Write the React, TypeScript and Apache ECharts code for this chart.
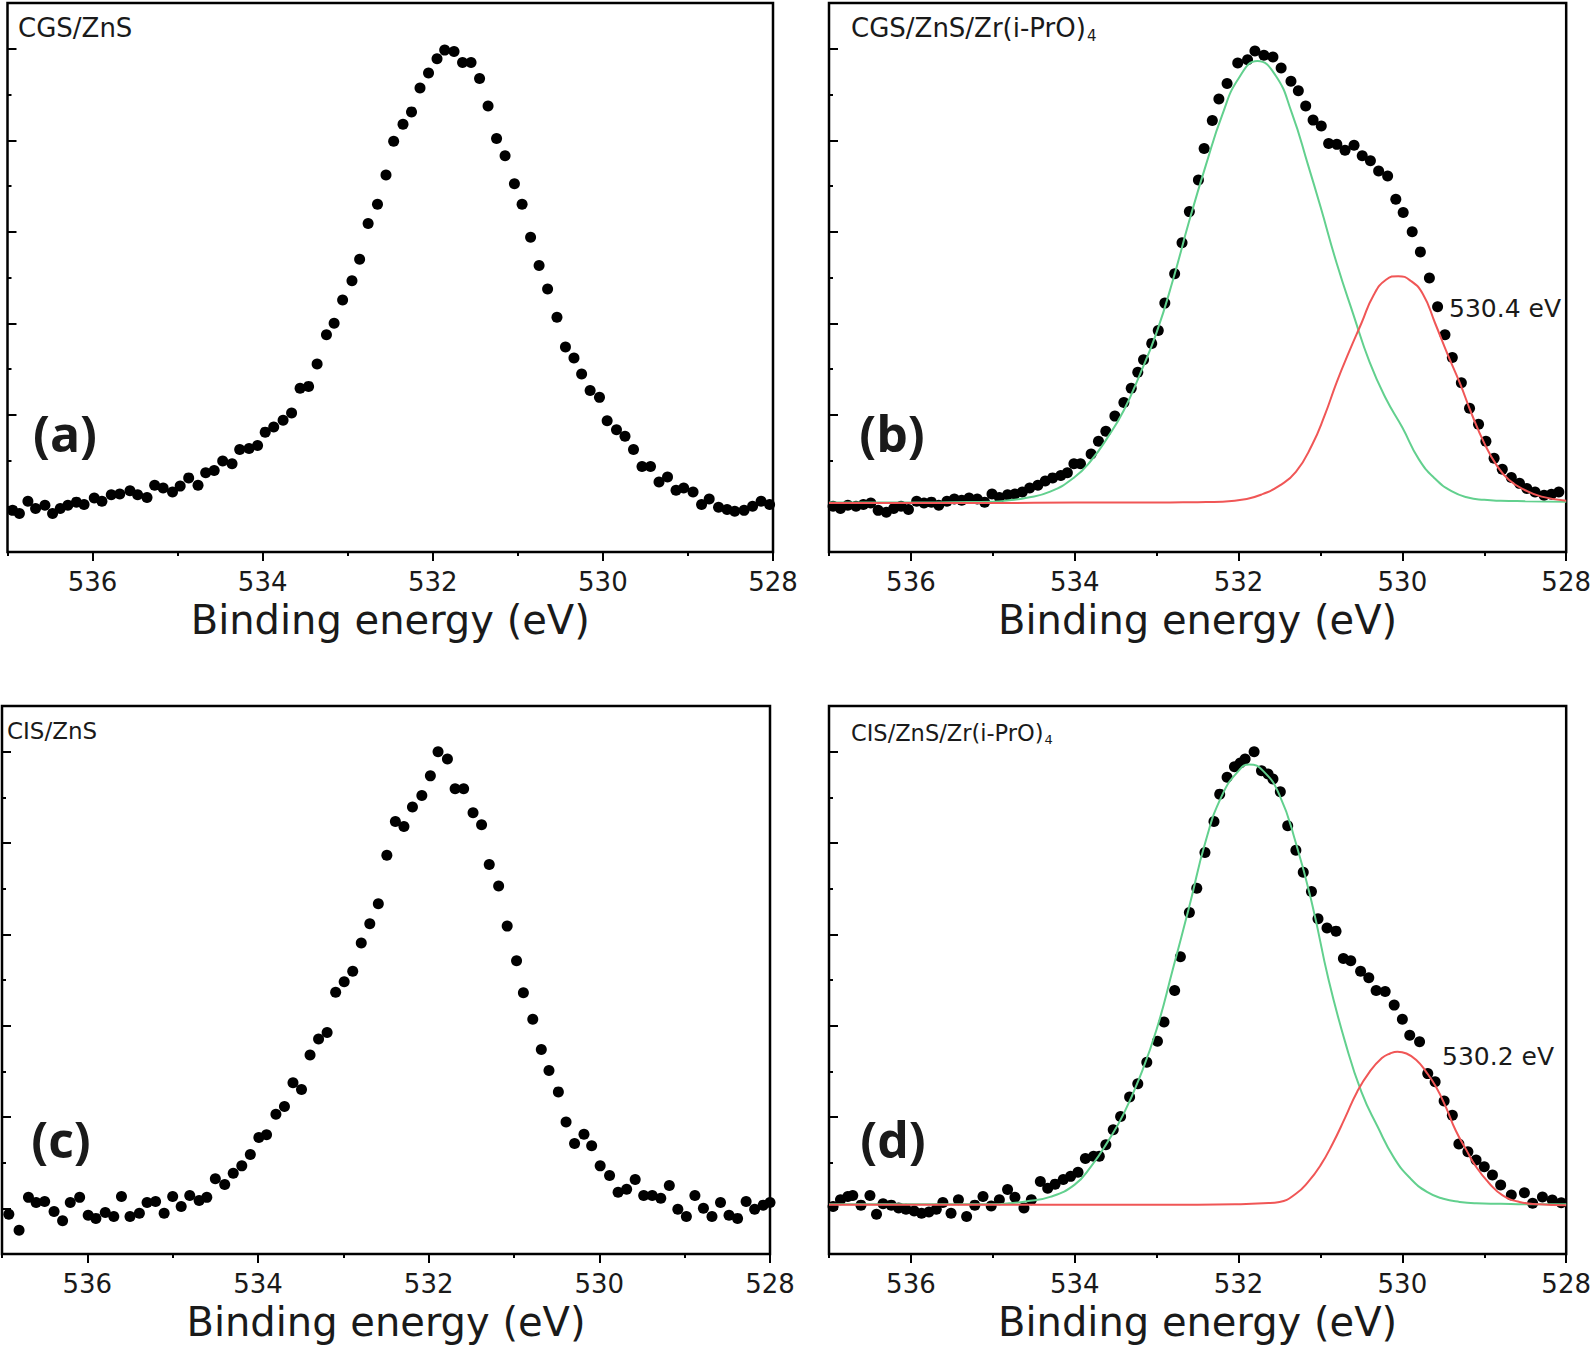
import React, { useEffect, useRef } from "react";
import * as echarts from "echarts";

// ---------- Panel (a) CGS/ZnS : binding energy (eV) / intensity (a.u., tick units)
const energyA = [536.94, 536.86, 536.76, 536.67, 536.56, 536.47, 536.38, 536.29, 536.19, 536.10, 535.98, 535.89, 535.78, 535.68, 535.56, 535.47, 535.36, 535.27, 535.17, 535.06, 534.97, 534.87, 534.76, 534.67, 534.57, 534.47, 534.36, 534.27, 534.16, 534.06, 533.97, 533.87, 533.76, 533.66, 533.56, 533.46, 533.36, 533.25, 533.16, 533.06, 532.95, 532.86, 532.76, 532.65, 532.55, 532.46, 532.35, 532.25, 532.15, 532.05, 531.95, 531.86, 531.75, 531.65, 531.55, 531.45, 531.35, 531.25, 531.15, 531.04, 530.95, 530.85, 530.75, 530.65, 530.54, 530.44, 530.34, 530.25, 530.15, 530.04, 529.95, 529.84, 529.74, 529.64, 529.54, 529.44, 529.34, 529.24, 529.14, 529.05, 528.94, 528.84, 528.75, 528.64, 528.54, 528.45, 528.34, 528.24, 528.14, 528.04];
const intensityA = [0.91, 0.84, 1.11, 0.95, 1.02, 0.84, 0.95, 1.02, 1.09, 1.04, 1.18, 1.11, 1.25, 1.27, 1.34, 1.25, 1.19, 1.46, 1.40, 1.31, 1.44, 1.62, 1.46, 1.73, 1.78, 1.99, 1.93, 2.24, 2.26, 2.33, 2.62, 2.73, 2.88, 3.04, 3.58, 3.62, 4.11, 4.75, 5.00, 5.51, 5.93, 6.40, 7.18, 7.60, 8.24, 8.98, 9.35, 9.62, 10.14, 10.47, 10.78, 10.97, 10.94, 10.70, 10.70, 10.35, 9.75, 9.04, 8.66, 8.05, 7.60, 6.88, 6.26, 5.75, 5.13, 4.48, 4.24, 3.89, 3.53, 3.38, 2.87, 2.67, 2.53, 2.24, 1.87, 1.87, 1.53, 1.64, 1.35, 1.40, 1.31, 1.04, 1.16, 0.98, 0.93, 0.89, 0.91, 1.00, 1.11, 1.04];

// ---------- Panel (b) CGS/ZnS/Zr(i-PrO)4
const energyB = [536.95, 536.86, 536.77, 536.67, 536.58, 536.49, 536.40, 536.30, 536.21, 536.12, 536.03, 535.93, 535.84, 535.75, 535.66, 535.56, 535.47, 535.38, 535.29, 535.19, 535.10, 535.01, 534.92, 534.82, 534.73, 534.64, 534.55, 534.45, 534.36, 534.27, 534.17, 534.09, 534.01, 533.93, 533.80, 533.71, 533.62, 533.51, 533.40, 533.31, 533.23, 533.16, 533.06, 532.98, 532.90, 532.78, 532.69, 532.60, 532.49, 532.42, 532.32, 532.24, 532.14, 532.01, 531.89, 531.80, 531.69, 531.58, 531.48, 531.36, 531.27, 531.18, 531.09, 530.99, 530.90, 530.80, 530.70, 530.59, 530.49, 530.39, 530.29, 530.18, 530.08, 529.99, 529.88, 529.78, 529.67, 529.57, 529.48, 529.39, 529.28, 529.18, 529.07, 528.98, 528.88, 528.78, 528.67, 528.57, 528.48, 528.38, 528.27, 528.18, 528.09];
const intensityB = [1.00, 0.95, 1.02, 1.00, 1.04, 1.07, 0.91, 0.87, 0.95, 1.00, 0.93, 1.11, 1.07, 1.09, 1.02, 1.11, 1.16, 1.13, 1.18, 1.16, 1.09, 1.27, 1.19, 1.25, 1.27, 1.31, 1.40, 1.46, 1.55, 1.62, 1.67, 1.73, 1.93, 1.93, 2.14, 2.42, 2.64, 2.97, 3.27, 3.58, 3.93, 4.20, 4.56, 4.84, 5.44, 6.08, 6.76, 7.44, 8.13, 8.82, 9.43, 9.90, 10.24, 10.69, 10.76, 10.95, 10.86, 10.82, 10.58, 10.29, 10.08, 9.75, 9.44, 9.31, 8.93, 8.91, 8.78, 8.89, 8.66, 8.55, 8.33, 8.22, 7.71, 7.42, 7.00, 6.56, 5.99, 5.36, 4.75, 4.25, 3.70, 3.14, 2.79, 2.42, 2.05, 1.81, 1.63, 1.50, 1.39, 1.31, 1.24, 1.26, 1.31];
const fitMainEnergyB = [537.0, 536.5, 536.0, 535.5, 535.0, 534.8, 534.6, 534.3, 534.0, 533.8, 533.6, 533.4, 533.2, 533.0, 532.8, 532.6, 532.4, 532.2, 532.0, 531.77, 531.55, 531.35, 531.15, 531.0, 530.8, 530.6, 530.4, 530.2, 530.0, 529.8, 529.6, 529.4, 529.2, 529.0, 528.8, 528.5, 528.0];
const fitMainB = [1.08, 1.08, 1.08, 1.09, 1.10, 1.13, 1.18, 1.32, 1.64, 2.00, 2.50, 3.10, 3.90, 4.80, 5.95, 7.25, 8.45, 9.55, 10.35, 10.73, 10.42, 9.60, 8.45, 7.55, 6.30, 5.20, 4.15, 3.35, 2.72, 2.03, 1.60, 1.33, 1.19, 1.14, 1.12, 1.11, 1.10];
const fitZrEnergyB = [537.0, 536.0, 535.0, 534.0, 533.0, 532.5, 532.2, 531.9, 531.7, 531.5, 531.3, 531.1, 530.95, 530.8, 530.65, 530.5, 530.35, 530.2, 530.05, 529.9, 529.75, 529.6, 529.45, 529.3, 529.15, 529.0, 528.85, 528.7, 528.5, 528.3, 528.0];
const fitZrB = [1.07, 1.07, 1.07, 1.08, 1.08, 1.09, 1.10, 1.16, 1.27, 1.45, 1.75, 2.35, 2.98, 3.72, 4.38, 5.00, 5.62, 5.95, 6.03, 5.93, 5.64, 5.00, 4.33, 3.70, 3.00, 2.38, 1.90, 1.58, 1.35, 1.21, 1.12];

// ---------- Panel (c) CIS/ZnS
const energyC = [536.92, 536.80, 536.69, 536.60, 536.50, 536.39, 536.29, 536.20, 536.09, 535.99, 535.90, 535.79, 535.69, 535.60, 535.50, 535.39, 535.30, 535.20, 535.10, 535.00, 534.90, 534.80, 534.69, 534.60, 534.50, 534.39, 534.29, 534.19, 534.09, 533.99, 533.90, 533.79, 533.69, 533.59, 533.49, 533.39, 533.29, 533.19, 533.09, 532.99, 532.89, 532.79, 532.69, 532.59, 532.49, 532.39, 532.29, 532.19, 532.08, 531.98, 531.89, 531.78, 531.69, 531.59, 531.48, 531.38, 531.29, 531.18, 531.08, 530.97, 530.89, 530.78, 530.68, 530.59, 530.48, 530.39, 530.29, 530.18, 530.09, 529.99, 529.88, 529.78, 529.68, 529.58, 529.48, 529.38, 529.28, 529.18, 529.08, 528.98, 528.88, 528.78, 528.68, 528.58, 528.48, 528.38, 528.28, 528.18, 528.08, 528.00];
const intensityC = [0.87, 0.52, 1.24, 1.13, 1.15, 0.93, 0.73, 1.13, 1.24, 0.85, 0.78, 0.91, 0.82, 1.26, 0.82, 0.89, 1.13, 1.15, 0.89, 1.26, 1.04, 1.28, 1.17, 1.24, 1.65, 1.52, 1.77, 1.93, 2.18, 2.55, 2.61, 3.06, 3.23, 3.75, 3.60, 4.36, 4.71, 4.85, 5.73, 5.96, 6.19, 6.81, 7.23, 7.67, 8.73, 9.47, 9.36, 9.79, 10.04, 10.47, 11.00, 10.84, 10.19, 10.19, 9.66, 9.40, 8.53, 8.06, 7.18, 6.42, 5.72, 5.14, 4.48, 4.02, 3.55, 2.89, 2.42, 2.62, 2.37, 1.93, 1.72, 1.35, 1.42, 1.63, 1.28, 1.28, 1.22, 1.50, 0.98, 0.82, 1.28, 1.00, 0.82, 1.13, 0.85, 0.78, 1.15, 0.98, 1.07, 1.13];

// ---------- Panel (d) CIS/ZnS/Zr(i-PrO)4
const energyD = [536.95, 536.86, 536.77, 536.71, 536.61, 536.50, 536.42, 536.34, 536.24, 536.15, 536.06, 535.96, 535.87, 535.78, 535.69, 535.61, 535.51, 535.42, 535.32, 535.22, 535.12, 535.02, 534.92, 534.82, 534.73, 534.62, 534.53, 534.42, 534.33, 534.24, 534.14, 534.05, 533.96, 533.87, 533.77, 533.70, 533.62, 533.53, 533.44, 533.33, 533.23, 533.12, 532.99, 532.91, 532.78, 532.71, 532.60, 532.51, 532.41, 532.30, 532.23, 532.14, 532.05, 531.98, 531.92, 531.81, 531.72, 531.64, 531.58, 531.49, 531.40, 531.30, 531.21, 531.11, 531.03, 530.92, 530.81, 530.72, 530.63, 530.51, 530.41, 530.32, 530.21, 530.10, 530.00, 529.91, 529.79, 529.69, 529.60, 529.49, 529.39, 529.31, 529.20, 529.10, 529.00, 528.90, 528.80, 528.67, 528.51, 528.41, 528.29, 528.17, 528.06];
const intensityD = [1.04, 1.19, 1.26, 1.28, 1.07, 1.28, 0.87, 1.10, 1.07, 1.01, 0.98, 0.94, 0.89, 0.92, 0.98, 1.13, 0.89, 1.19, 0.82, 1.07, 1.26, 1.05, 1.19, 1.41, 1.24, 1.01, 1.19, 1.59, 1.44, 1.53, 1.63, 1.70, 1.79, 2.09, 2.14, 2.14, 2.39, 2.72, 3.01, 3.44, 3.73, 4.20, 4.66, 5.08, 5.77, 6.51, 7.48, 8.01, 8.79, 9.47, 10.07, 10.44, 10.67, 10.75, 10.84, 11.00, 10.58, 10.51, 10.40, 10.12, 9.38, 8.84, 8.36, 7.94, 7.34, 7.14, 7.07, 6.47, 6.42, 6.19, 6.05, 5.77, 5.75, 5.45, 5.14, 4.79, 4.65, 3.95, 3.77, 3.35, 3.04, 2.41, 2.24, 2.06, 1.91, 1.73, 1.51, 1.29, 1.34, 1.11, 1.25, 1.18, 1.12];
const fitMainEnergyD = [537.0, 536.5, 536.0, 535.5, 535.0, 534.8, 534.6, 534.3, 534.0, 533.8, 533.6, 533.4, 533.2, 533.0, 532.8, 532.6, 532.4, 532.2, 532.0, 531.87, 531.7, 531.5, 531.3, 531.1, 530.9, 530.7, 530.5, 530.3, 530.1, 529.9, 529.7, 529.5, 529.3, 529.1, 528.8, 528.5, 528.0];
const fitMainD = [1.09, 1.09, 1.09, 1.09, 1.09, 1.11, 1.15, 1.25, 1.52, 1.92, 2.45, 3.08, 3.90, 4.92, 6.25, 7.62, 9.05, 10.05, 10.58, 10.72, 10.58, 10.05, 9.00, 7.65, 6.00, 4.65, 3.55, 2.78, 2.10, 1.65, 1.36, 1.21, 1.14, 1.11, 1.10, 1.09, 1.09];
const fitZrEnergyD = [537.0, 536.0, 535.0, 534.0, 533.0, 532.5, 532.0, 531.7, 531.5, 531.3, 531.15, 531.0, 530.85, 530.7, 530.55, 530.4, 530.25, 530.15, 530.06, 529.95, 529.83, 529.71, 529.59, 529.47, 529.35, 529.22, 529.10, 528.94, 528.78, 528.57, 528.33, 528.0];
const fitZrD = [1.08, 1.08, 1.08, 1.08, 1.08, 1.08, 1.09, 1.11, 1.14, 1.32, 1.58, 1.94, 2.42, 2.98, 3.56, 3.99, 4.29, 4.39, 4.43, 4.39, 4.25, 3.99, 3.66, 3.22, 2.71, 2.28, 1.91, 1.55, 1.29, 1.14, 1.09, 1.07];

// ---------- axis / text content
const xMin = 528;
const xMax = 537;
const xAxisTitle = "Binding energy (eV)";
const panelLetters = ["(a)", "(b)", "(c)", "(d)"];
const sampleNames = ["CGS/ZnS", "CGS/ZnS/Zr(i-PrO)", "CIS/ZnS", "CIS/ZnS/Zr(i-PrO)"];
const sampleSubs = ["", "4", "", "4"];
const peakNotes = ["", "530.4 eV", "", "530.2 eV"];

// ---------- layout (pixels)
const grids = [
  { left: 7.5, top: 3, width: 765.5, height: 549 },
  { left: 829, top: 3, width: 738, height: 549 },
  { left: 2, top: 706, width: 768, height: 548 },
  { left: 829, top: 706, width: 738, height: 548 },
];
const letterPos = [
  [65, 433],
  [892, 433],
  [61, 1139],
  [893, 1139],
];
const namePos = [
  [18, 28, 26, 15],
  [851, 28, 26, 15],
  [7, 731, 23, 13],
  [851, 733, 22.5, 13],
];
const notePos = [
  [0, 0],
  [1449, 308],
  [0, 0],
  [1442, 1056],
];

const FONT = '"DejaVu Sans", "Liberation Sans", sans-serif';
const INK = "#1a1a1a";
const GREEN = "#62d08e";
const RED = "#f05656";

function zip(xs: number[], ys: number[]) {
  return xs.map((x, i) => [x, ys[i]]);
}

function measure(text: string, font: string) {
  const c = document.createElement("canvas").getContext("2d");
  if (!c) return text.length * 12;
  c.font = font;
  return c.measureText(text).width;
}

export default function App() {
  const ref = useRef<HTMLDivElement>(null);

  useEffect(() => {
    document.body.style.margin = "0";
    if (!ref.current) return;
    const chart = echarts.init(ref.current, null, { renderer: "svg" });

    const xAxis: any[] = [];
    const yAxis: any[] = [];
    grids.forEach((_, i) => {
      xAxis.push({
        gridIndex: i,
        type: "value",
        position: "bottom",
        min: xMin,
        max: xMax,
        interval: 2,
        inverse: true,
        axisLine: { show: false, onZero: false },
        axisTick: { show: true, inside: false, length: 9, lineStyle: { color: "#000", width: 2 } },
        axisLabel: {
          show: true,
          showMaxLabel: false,
          margin: 17,
          fontSize: 26,
          fontFamily: FONT,
          color: INK,
        },
        splitLine: { show: false },
        name: xAxisTitle,
        nameLocation: "middle",
        nameGap: 48,
        nameTextStyle: { fontSize: 40, fontFamily: FONT, color: INK },
      });
      xAxis.push({
        gridIndex: i,
        type: "value",
        position: "bottom",
        min: xMin,
        max: xMax,
        interval: 1,
        inverse: true,
        axisLine: { show: false, onZero: false },
        axisTick: { show: true, inside: false, length: 4, lineStyle: { color: "#000", width: 2 } },
        axisLabel: { show: false },
        splitLine: { show: false },
      });
      yAxis.push({
        gridIndex: i,
        type: "value",
        position: "left",
        min: 0,
        max: 12,
        interval: 1,
        axisLine: { show: false, onZero: false },
        axisTick: { show: true, inside: true, length: 4, lineStyle: { color: "#000", width: 2 } },
        axisLabel: { show: false },
        splitLine: { show: false },
      });
      yAxis.push({
        gridIndex: i,
        type: "value",
        position: "left",
        min: -1,
        max: 11,
        splitNumber: 6,
        axisLine: { show: false, onZero: false },
        axisTick: { show: true, inside: true, length: 9, lineStyle: { color: "#000", width: 2 } },
        axisLabel: { show: false },
        splitLine: { show: false },
      });
    });

    const scatterSets = [
      zip(energyA, intensityA),
      zip(energyB, intensityB),
      zip(energyC, intensityC),
      zip(energyD, intensityD),
    ];
    const series: any[] = [];
    scatterSets.forEach((data, i) => {
      series.push({
        type: "scatter",
        xAxisIndex: 2 * i,
        yAxisIndex: 2 * i,
        data,
        symbol: "circle",
        symbolSize: 11,
        itemStyle: { color: "#000", opacity: 1 },
        silent: true,
        z: 3,
      });
    });
    const fits = [
      { i: 1, data: zip(fitMainEnergyB, fitMainB), color: GREEN },
      { i: 1, data: zip(fitZrEnergyB, fitZrB), color: RED },
      { i: 3, data: zip(fitMainEnergyD, fitMainD), color: GREEN },
      { i: 3, data: zip(fitZrEnergyD, fitZrD), color: RED },
    ];
    fits.forEach((f) => {
      series.push({
        type: "line",
        xAxisIndex: 2 * f.i,
        yAxisIndex: 2 * f.i,
        data: f.data,
        smooth: 0.5,
        showSymbol: false,
        symbol: "none",
        silent: true,
        lineStyle: { color: f.color, width: 2 },
        z: 4,
      });
    });

    const graphic: any[] = [];
    panelLetters.forEach((t, i) => {
      graphic.push({
        type: "text",
        x: letterPos[i][0],
        y: letterPos[i][1],
        silent: true,
        style: {
          text: t,
          font: 'bold 50px "Open Sans", "DejaVu Sans", sans-serif',
          fill: INK,
          textAlign: "center",
          textVerticalAlign: "middle",
          align: "center",
          verticalAlign: "middle",
        },
      });
    });
    sampleNames.forEach((t, i) => {
      const [x, cy, fs, sfs] = namePos[i];
      const font = `${fs}px ${FONT}`;
      graphic.push({
        type: "text",
        x,
        y: cy,
        silent: true,
        style: {
          text: t,
          font,
          fill: INK,
          textAlign: "left",
          textVerticalAlign: "middle",
          align: "left",
          verticalAlign: "middle",
        },
      });
      if (sampleSubs[i]) {
        const w = measure(t, font);
        graphic.push({
          type: "text",
          x: x + w + 1,
          y: cy + fs * 0.29,
          silent: true,
          style: {
            text: sampleSubs[i],
            font: `${sfs}px ${FONT}`,
            fill: INK,
            textAlign: "left",
            textVerticalAlign: "middle",
            align: "left",
            verticalAlign: "middle",
          },
        });
      }
    });
    peakNotes.forEach((t, i) => {
      if (!t) return;
      graphic.push({
        type: "text",
        x: notePos[i][0],
        y: notePos[i][1],
        silent: true,
        style: {
          text: t,
          font: `25px ${FONT}`,
          fill: INK,
          textAlign: "left",
          textVerticalAlign: "middle",
          align: "left",
          verticalAlign: "middle",
        },
      });
    });

    chart.setOption({
      animation: false,
      backgroundColor: "#ffffff",
      grid: grids.map((g) => ({
        ...g,
        show: true,
        borderColor: "#000",
        borderWidth: 2.5,
        backgroundColor: "transparent",
        containLabel: false,
      })),
      xAxis,
      yAxis,
      series,
      graphic,
    });

    return () => chart.dispose();
  }, []);

  return <div ref={ref} style={{ width: 1594, height: 1353 }} />;
}
